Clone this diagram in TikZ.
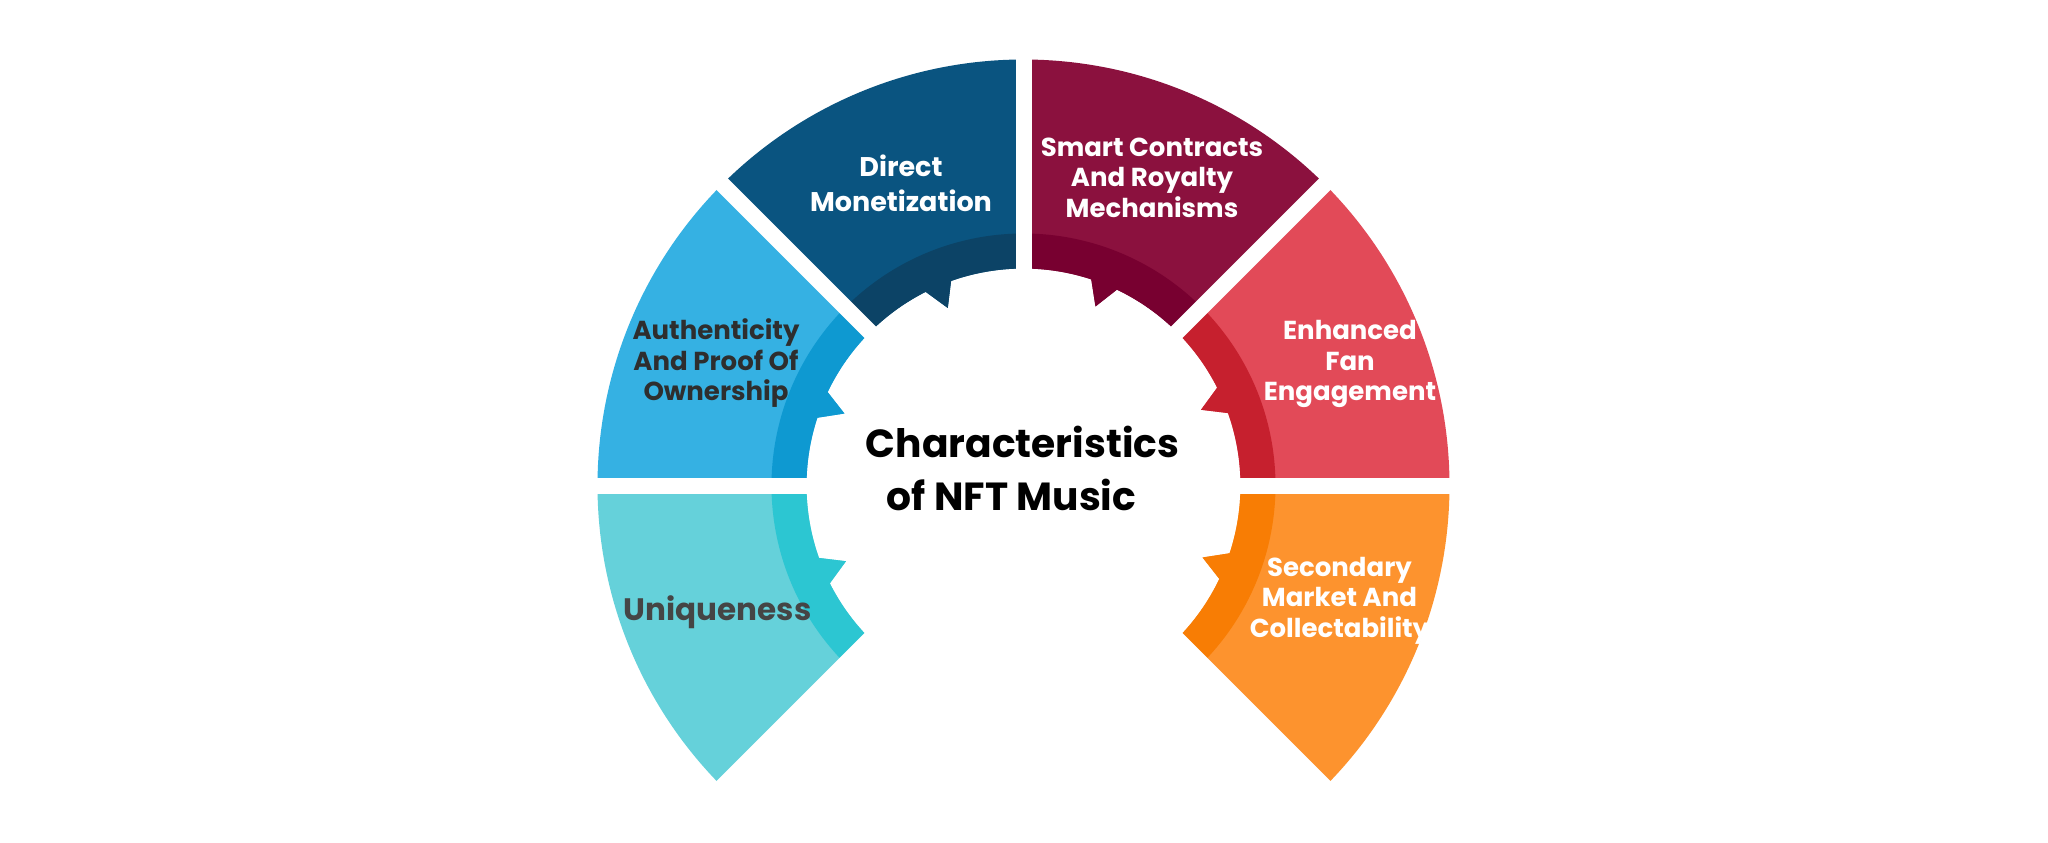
\documentclass[tikz,border=0pt]{standalone}
\usepackage{fontspec}
\setmainfont{Poppins}
\definecolor{dmMain}{HTML}{0A5480}
\definecolor{dmBand}{HTML}{0C4366}
\definecolor{scMain}{HTML}{8B113E}
\definecolor{scBand}{HTML}{780030}
\definecolor{auMain}{HTML}{35B1E3}
\definecolor{auBand}{HTML}{0E99D1}
\definecolor{enMain}{HTML}{E24A58}
\definecolor{enBand}{HTML}{C6202E}
\definecolor{unMain}{HTML}{65D1DA}
\definecolor{unBand}{HTML}{2CC6D2}
\definecolor{seMain}{HTML}{FD932E}
\definecolor{seBand}{HTML}{F87D04}
\definecolor{darkText}{HTML}{2E2E2E}
\definecolor{grayText}{HTML}{454545}
\newcommand\ringseg[3]{%
  \pgfmathsetmacro\segS{#1}%
  \pgfmathsetmacro\segE{#1+45}%
  \pgfmathsetmacro\segM{#1+22.5}%
  \pgfmathsetmacro\segTA{\segM-3}%
  \pgfmathsetmacro\segTB{\segM+0.6}%
  \pgfmathsetmacro\segTC{\segM+4.3}%
  \fill[#2] (\segS:426) arc[start angle=\segS,end angle=\segE,radius=426]
    -- (\segE:217) arc[start angle=\segE,end angle=\segTC,radius=217]
    -- (\segTB:193) -- (\segTA:217)
    arc[start angle=\segTA,end angle=\segS,radius=217] -- cycle;
  \fill[#3] (\segS:252) arc[start angle=\segS,end angle=\segE,radius=252]
    -- (\segE:217) arc[start angle=\segE,end angle=\segTC,radius=217]
    -- (\segTB:193) -- (\segTA:217)
    arc[start angle=\segTA,end angle=\segS,radius=217] -- cycle;
}
\tikzset{
  gapline/.style={white,line width=8pt},
  seglabel/.style={align=center,font=\bfseries\fontsize{13}{15.25}\selectfont,inner sep=0pt},
  titlelabel/.style={align=center,font=\bfseries\fontsize{19.6}{26.3}\selectfont,inner sep=0pt,text=black}
}
\begin{document}
\begin{tikzpicture}[x=0.5pt,y=0.5pt]
\fill[white] (-1023.5,-356.5) rectangle (1024.5,485.5);
\useasboundingbox (-1023.5,-356.5) rectangle (1024.5,485.5);
\ringseg{-45}{seMain}{seBand}
\ringseg{0}{enMain}{enBand}
\ringseg{45}{scMain}{scBand}
\ringseg{90}{dmMain}{dmBand}
\ringseg{135}{auMain}{auBand}
\ringseg{180}{unMain}{unBand}
\foreach \g in {-45,0,45,90,135,180,225}{
  \draw[gapline] (0,0) -- (\g:470);
}
\node[seglabel,text=white,font=\bfseries\fontsize{13.5}{17.5}\selectfont] (dm) at (-122.5,302) {Direct\\Monetization};
\node[seglabel,text=white] (sc) at (128.5,307.7) {Smart Contracts\\And Royalty\\Mechanisms};
\node[seglabel,text=darkText] (au) at (-307.5,122) {Authenticity\\And Proof Of\\Ownership};
\node[seglabel,text=white] (en) at (326.5,121.5) {Enhanced\\Fan\\Engagement};
\node[seglabel,text=grayText,font=\bfseries\fontsize{15.5}{18}\selectfont] (un) at (-305.8,-126.5) {Uniqueness};
\node[seglabel,text=white] (se) at (316,-115) {Secondary\\Market And\\Collectability};
\node[titlelabel] (title) at (-1,16.9) {Characteristics\\of NFT Music\hspace*{11pt}};
\end{tikzpicture}
\end{document}
